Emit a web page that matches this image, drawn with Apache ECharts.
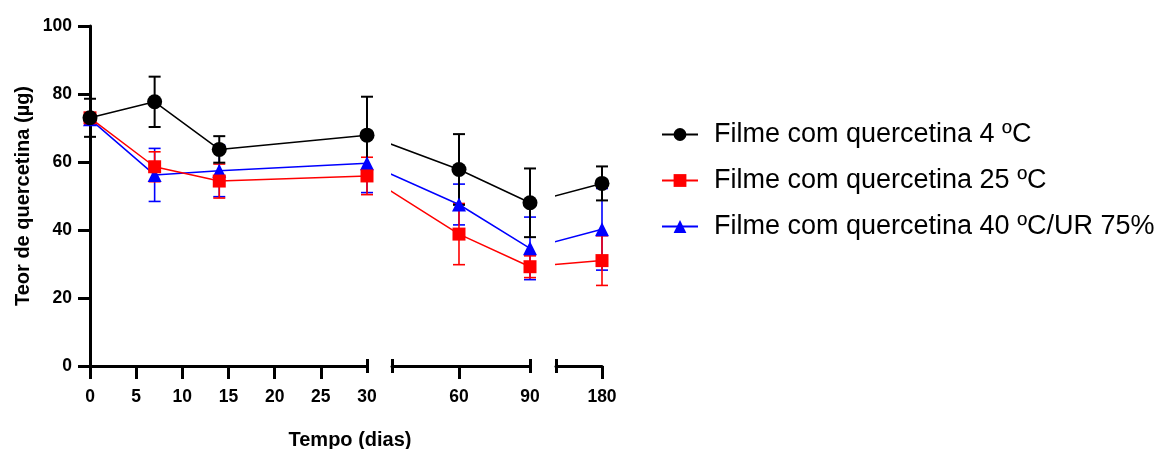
<!DOCTYPE html>
<html>
<head>
<meta charset="utf-8">
<title>Teor de quercetina</title>
<script src="https://cdn.jsdelivr.net/npm/echarts@6/dist/echarts.min.js"></script>
<style>
  html, body { margin: 0; padding: 0; background: #fff; }
  #chart { width: 1171px; height: 449px; }
</style>
</head>
<body>
<div id="chart"></div>
<script>
// tempo de armazenamento (dias)
const days = [0, 7, 14, 30, 60, 90, 180]

// média e desvio padrão (µg) de cada condição
const mean4 = [73.0, 77.7, 63.7, 67.9, 57.8, 48.0, 53.7]
const sd4 = [5.6, 7.4, 3.9, 11.3, 10.4, 10.1, 5.0]
const mean25 = [73.0, 58.6, 54.4, 55.9, 38.8, 29.2, 31.0]
const sd25 = [1.0, 4.4, 5.0, 5.5, 9.0, 3.2, 7.3]
const mean40 = [72.6, 56.2, 57.4, 59.6, 47.5, 34.6, 40.2]
const sd40 = [1.0, 7.8, 7.6, 8.6, 6.0, 9.2, 12.0]

const seriesNames = [
  'Filme com quercetina 4 ºC',
  'Filme com quercetina 25 ºC',
  'Filme com quercetina 40 ºC/UR 75%'
]

// eixo y
const yMin = 0
const yMax = 100
const yStep = 20

// eixo x quebrado em três partes, cada uma com a sua escala linear
const pieces = [
  { from: 0, to: 30, left: 90, width: 277, ticks: [0, 5, 10, 15, 20, 25, 30], caps: [30] },
  { from: 31.7, to: 90, left: 392, width: 138, ticks: [60, 90], caps: [31.7, 90] },
  { from: 160, to: 180, left: 556, width: 46, ticks: [180], caps: [160] }
]

const FONT = 'Liberation Sans, Arial, sans-serif'
const X0 = pieces[0].left

// dia -> posição comum a todas as partes (para as linhas atravessarem a quebra)
const toPos = (d) => {
  const p = pieces.find(p => d >= p.from && d <= p.to)
  return p.left - X0 + (d - p.from) / (p.to - p.from) * p.width
}

const styles = [
  { color: '#000000', symbol: 'circle', size: 15 },
  { color: '#ff0000', symbol: 'rect', size: 13 },
  { color: '#0000ff', symbol: 'triangle', size: 14 }
]
const means = [mean4, mean25, mean40]
const sds = [sd4, sd25, sd40]

const myChart = echarts.init(document.getElementById('chart'))

const grids = []
const xAxes = []
const yAxes = []
const series = []

pieces.forEach((p, g) => {
  grids.push({ left: p.left, top: 26, width: p.width, height: 340 })
  const min = toPos(p.from)
  const max = toPos(p.to)
  // eixo principal
  xAxes.push({
    type: 'value', gridIndex: g, min: min, max: max, position: 'bottom',
    splitLine: { show: false },
    axisLine: { show: true, lineStyle: { color: '#000', width: 3 } },
    axisTick: {
      show: true, length: 13, lineStyle: { color: '#000', width: 3 },
      customValues: p.ticks.filter(t => !p.caps.includes(t)).map(toPos)
    },
    axisLabel: {
      show: true, margin: 22, color: '#000', fontFamily: FONT, fontWeight: 'bold', fontSize: 17.5,
      customValues: p.ticks.map(toPos),
      formatter: (v) => {
        const t = p.ticks.find(t => Math.abs(toPos(t) - v) < 0.01)
        return t === undefined ? '' : String(t)
      }
    }
  })
  // marcas nas pontas de cada parte
  xAxes.push({
    type: 'value', gridIndex: g, min: min, max: max, position: 'bottom', offset: -7,
    splitLine: { show: false },
    axisLine: { show: false },
    axisTick: { show: true, length: 14, lineStyle: { color: '#000', width: 3 }, customValues: p.caps.map(toPos) },
    axisLabel: { show: false }
  })
  yAxes.push({
    type: 'value', gridIndex: g, min: yMin, max: yMax, interval: yStep,
    show: g === 0,
    name: g === 0 ? 'Teor de quercetina (µg)' : '',
    nameLocation: 'middle', nameGap: 57,
    nameTextStyle: { color: '#000', fontFamily: FONT, fontWeight: 'bold', fontSize: 20 },
    splitLine: { show: false },
    axisLine: { show: true, lineStyle: { color: '#000', width: 3 } },
    axisTick: { show: true, length: 12, lineStyle: { color: '#000', width: 3 } },
    axisLabel: { margin: 18, color: '#000', fontFamily: FONT, fontWeight: 'bold', fontSize: 17.5 }
  })

  // ordem de desenho: azul, vermelho, preto (preto por cima)
  ;[2, 1, 0].forEach(s => {
    const st = styles[s]
    // barras de erro (média ± DP)
    series.push({
      type: 'custom',
      xAxisIndex: g * 2,
      yAxisIndex: g,
      clip: false,
      z: 2,
      silent: true,
      data: days
        .map((d, i) => [toPos(d), means[s][i] - sds[s][i], means[s][i] + sds[s][i], d])
        .filter(r => r[3] >= p.from && r[3] <= p.to),
      encode: { x: 0, y: [1, 2] },
      renderItem: (params, api) => {
        const lo = api.coord([api.value(0), api.value(1)])
        const hi = api.coord([api.value(0), api.value(2)])
        const hw = 6
        const ls = { stroke: st.color, lineWidth: s === 0 ? 2 : 1.6 }
        return {
          type: 'group',
          children: [
            { type: 'line', shape: { x1: hi[0], y1: hi[1], x2: lo[0], y2: lo[1] }, style: ls },
            { type: 'line', shape: { x1: hi[0] - hw, y1: hi[1], x2: hi[0] + hw, y2: hi[1] }, style: ls },
            { type: 'line', shape: { x1: lo[0] - hw, y1: lo[1], x2: lo[0] + hw, y2: lo[1] }, style: ls }
          ]
        }
      }
    })
    series.push({
      type: 'line',
      name: seriesNames[s],
      xAxisIndex: g * 2,
      yAxisIndex: g,
      clip: true,
      z: 3,
      symbol: st.symbol,
      symbolSize: st.size,
      showAllSymbol: true,
      color: st.color,
      itemStyle: { color: st.color },
      lineStyle: { color: st.color, width: 1.5 },
      data: days.map((d, i) => [toPos(d), means[s][i]])
    })
  })
})

myChart.setOption({
  animation: false,
  backgroundColor: '#fff',
  title: {
    text: 'Tempo (dias)',
    left: 345, top: 425, textAlign: 'center',
    textStyle: { color: '#000', fontFamily: FONT, fontWeight: 'bold', fontSize: 20 }
  },
  legend: {
    data: seriesNames,
    orient: 'vertical',
    left: 656, top: 116,
    itemWidth: 36, itemHeight: 16, itemGap: 19,
    textStyle: { color: '#000', fontFamily: FONT, fontSize: 27, padding: [0, 0, 0, 11] }
  },
  grid: grids,
  xAxis: xAxes,
  yAxis: yAxes,
  series: series
})
</script>
</body>
</html>
